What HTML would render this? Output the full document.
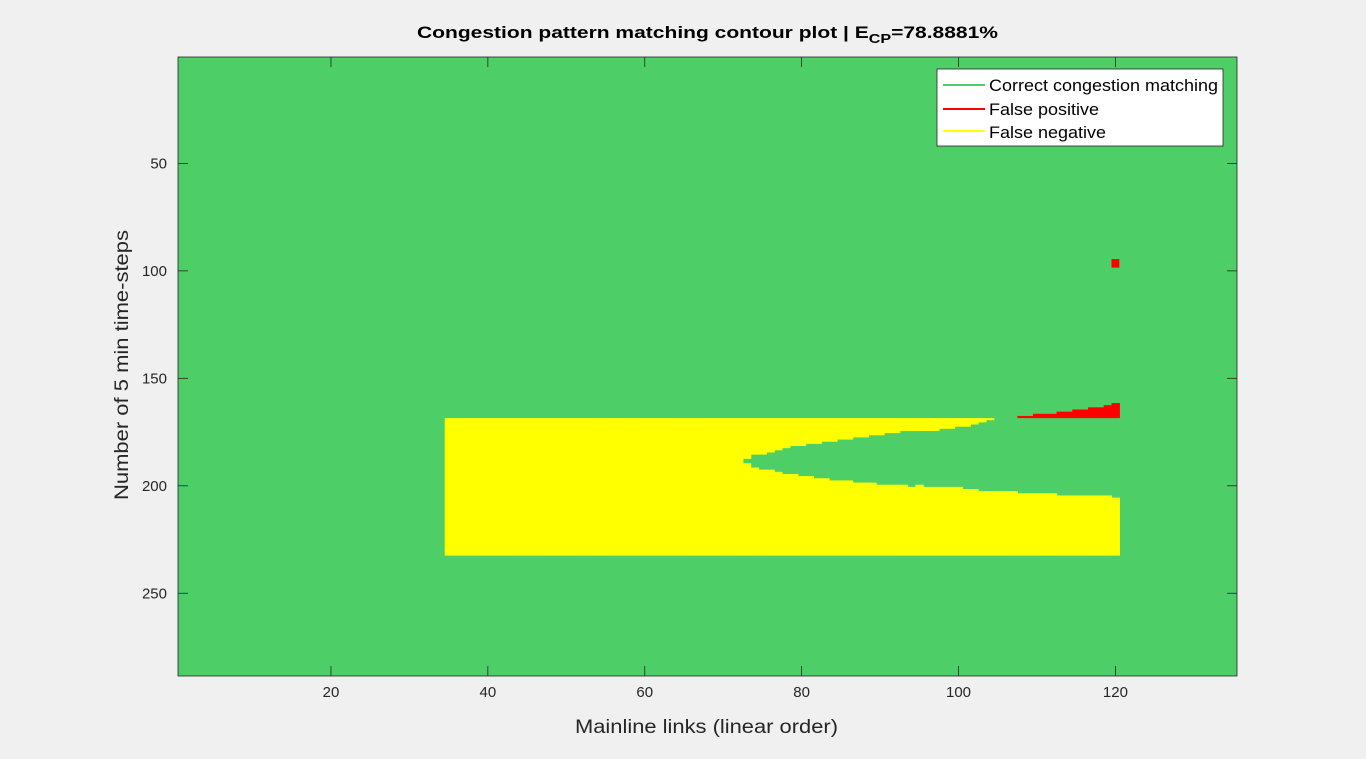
<!DOCTYPE html>
<html><head><meta charset="utf-8"><style>
body{margin:0;background:#f0f0f0;font-family:"Liberation Sans",Arial,sans-serif}
svg{display:block}
</style></head><body>
<svg id="chart" width="1366" height="759" viewBox="0 0 1366 759" xmlns="http://www.w3.org/2000/svg"></svg>
<script>
// data
const nCols = 135, nRows = 288;
const fnColStart = 35, fnColEnd = 120, fnRowTop = 169, fnRowBot = 232;
const wedgeCols = [73,74,75,76,77,78,79,80,81,82,83,84,85,86,87,88,89,90,91,92,93,94,95,96,97,98,99,100,101,102,103,104,105,106,107,108,109,110,111,112,113,114,115,116,117,118,119,120];
const wedgeTop  = [188,186,186,185,184,183,182,182,181,181,180,180,179,179,178,178,177,177,176,176,175,175,175,175,175,174,174,173,173,172,171,170,169,169,169,169,169,169,169,169,169,169,169,169,169,169,169,169];
const wedgeBot  = [190,192,193,193,194,195,195,196,196,197,197,198,198,198,199,199,199,200,200,200,200,201,200,201,201,201,201,201,202,202,203,203,203,203,203,204,204,204,204,204,205,205,205,205,205,205,205,206];
const fpCols = [108,109,110,111,112,113,114,115,116,117,118,119,120];
const fpTop  = [168,168,167,167,167,166,166,165,165,164,164,163,162];
const fpBot = 168;
const fpDot = {col:120, rowTop:95, rowBot:98};
const xTicks = [20,40,60,80,100,120];
const yTicks = [50,100,150,200,250];

const L=178,R=1237,T=57,B=676;
const cw=(R-L)/nCols, rh=(B-T)/nRows;
const xs = c => L+(c-0.5)*cw;
const ys = r => T+(r-0.5)*rh;
const NS="http://www.w3.org/2000/svg";
const svg=document.getElementById('chart');
function mk(tag,attrs,parent){const e=document.createElementNS(NS,tag);for(const k in attrs)e.setAttribute(k,attrs[k]);(parent||svg).appendChild(e);return e;}

const bg=mk('rect',{x:L,y:T,width:R-L,height:B-T,fill:'#4dce67'});



const gY=mk('g',{});


for(let c=fnColStart;c<=fnColEnd;c++){
  const i=wedgeCols.indexOf(c);
  const x0=xs(c-0.5), w=cw+0.6;
  if(i<0){
    const r=mk('rect',{x:x0,y:ys(fnRowTop-0.5),width:w,height:(fnRowBot-fnRowTop+1)*rh,fill:'#ffff00'},gY);
    
    
  } else {
    if(wedgeTop[i]>fnRowTop){
      const r=mk('rect',{x:x0,y:ys(fnRowTop-0.5),width:w,height:(wedgeTop[i]-fnRowTop)*rh,fill:'#ffff00'},gY);
      
      
    }
    const r2=mk('rect',{x:x0,y:ys(wedgeBot[i]-0.5),width:w,height:(fnRowBot-wedgeBot[i]+1)*rh,fill:'#ffff00'},gY);
    
    
  }
}
const gR=mk('g',{});


fpCols.forEach((c,i)=>{
  const r=mk('rect',{x:xs(c-0.5),y:ys(fpTop[i]-0.5),width:cw+0.6,height:(fpBot-fpTop[i]+1)*rh,fill:'#ff0000'},gR);
  
  
});
const dot=mk('rect',{x:xs(fpDot.col-0.5),y:ys(fpDot.rowTop-0.5),width:cw,height:(fpDot.rowBot-fpDot.rowTop+1)*rh,fill:'#ff0000'},gR);



const box=mk('rect',{x:L,y:T,width:R-L,height:B-T,fill:'none',stroke:'#262626','stroke-width':0.8});



const gx=mk('g',{});


xTicks.forEach(v=>{
  const x=xs(v);
  mk('line',{x1:x,x2:x,y1:B,y2:B-10,stroke:'#262626','stroke-width':0.8},gx);
  mk('line',{x1:x,x2:x,y1:T,y2:T+10,stroke:'#262626','stroke-width':0.8},gx);
  const t=mk('text',{x:x,y:B+21,'text-anchor':'middle','font-size':15,fill:'#262626'},gx);
  t.textContent=v;
  
  
});
const gy=mk('g',{});


yTicks.forEach(v=>{
  const y=ys(v);
  mk('line',{x1:L,x2:L+10,y1:y,y2:y,stroke:'#262626','stroke-width':0.8},gy);
  mk('line',{x1:R,x2:R-10,y1:y,y2:y,stroke:'#262626','stroke-width':0.8},gy);
  const t=mk('text',{x:L-11,y:y+5,'text-anchor':'end','font-size':15,fill:'#262626'},gy);
  t.textContent=v;
  
  
});
</script>
<svg style="position:absolute;left:0;top:0" width="1366" height="759">
<text x="417" y="38" font-size="17" font-weight="bold" fill="#000" textLength="581" lengthAdjust="spacingAndGlyphs">Congestion pattern matching contour plot | E<tspan font-size="13" dy="5">CP</tspan><tspan dy="-5">=78.8881%</tspan></text>
<text x="575" y="733" font-size="19" fill="#262626" textLength="263" lengthAdjust="spacingAndGlyphs">Mainline links (linear order)</text>
<text transform="translate(128,500) rotate(-90)" font-size="19" fill="#262626" textLength="270" lengthAdjust="spacingAndGlyphs">Number of 5 min time-steps</text>
<g>
<rect x="937" y="69" width="286" height="77" fill="#fff" stroke="#262626" stroke-width="0.8"/>
<line x1="943" x2="985" y1="85" y2="85" stroke="#4dce67" stroke-width="2"/>
<text x="989" y="91" font-size="17" fill="#000" textLength="229" lengthAdjust="spacingAndGlyphs">Correct congestion matching</text>
<line x1="943" x2="985" y1="109" y2="109" stroke="#ff0000" stroke-width="2"/>
<text x="989" y="115" font-size="17" fill="#000" textLength="110" lengthAdjust="spacingAndGlyphs">False positive</text>
<line x1="943" x2="985" y1="131" y2="131" stroke="#ffff00" stroke-width="2"/>
<text x="989" y="138" font-size="17" fill="#000" textLength="117" lengthAdjust="spacingAndGlyphs">False negative</text>
</g>
</svg>
</body></html>
